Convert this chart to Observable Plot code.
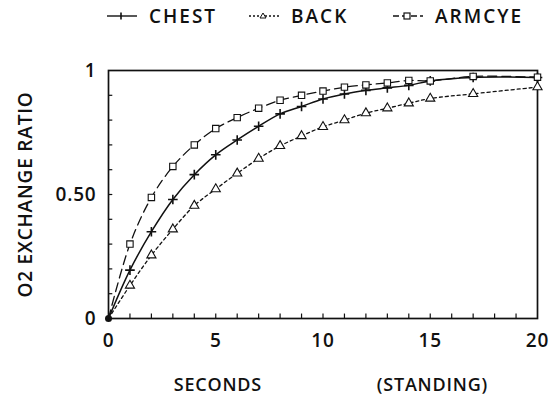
<!DOCTYPE html>
<html>
<head>
<meta charset="utf-8">
<script src="https://cdn.jsdelivr.net/npm/d3@7"></script>
<script src="https://cdn.jsdelivr.net/npm/@observablehq/plot@0.6"></script>
<style>
  html, body { margin: 0; padding: 0; background: #fff; }
  body { width: 553px; height: 402px; overflow: hidden; font-family: "Open Sans", sans-serif; }
  #legend { position: relative; height: 34px; width: 553px; }
  .item { position: absolute; top: 3px; display: flex; align-items: center; font-size: 19px; font-weight: 600; letter-spacing: 2px; color: #111; }
  .item svg { margin-right: 11px; }
</style>
</head>
<body>
<div id="legend"></div>
<div id="chart"></div>
<script>
const seconds = [0, 1, 2, 3, 4, 5, 6, 7, 8, 9, 10, 11, 12, 13, 14, 15, 17, 20];
const chest   = [0, 0.195, 0.35, 0.48, 0.58, 0.66, 0.72, 0.775, 0.825, 0.855, 0.885, 0.905, 0.92, 0.93, 0.94, 0.958, 0.972, 0.972];
const back    = [0, 0.133, 0.255, 0.36, 0.455, 0.522, 0.585, 0.645, 0.696, 0.736, 0.773, 0.80, 0.828, 0.848, 0.868, 0.887, 0.906, 0.933];
const armcye  = [0, 0.30, 0.488, 0.613, 0.70, 0.766, 0.81, 0.848, 0.88, 0.90, 0.917, 0.933, 0.942, 0.95, 0.96, 0.958, 0.976, 0.973];
const seriesNames = ["CHEST", "BACK", "ARMCYE"];
const yTickLabels = [0, 0.5, 1];
const xTickLabels = [0, 5, 10, 15, 20];

const styles = {
  CHEST:  {dash: null,  symbol: "plus",     r: 3.2},
  BACK:   {dash: "3,3", symbol: "triangle", r: 3.4},
  ARMCYE: {dash: "9,5", symbol: "square",   r: 3.6}
};

const values = {CHEST: chest, BACK: back, ARMCYE: armcye};
const rows = seriesNames.flatMap(s => seconds.map((t, i) => ({series: s, t, v: values[s][i]})));

// legend
const legend = document.getElementById("legend");
const legendX = [106, 248, 392];
seriesNames.forEach((s, i) => {
  const st = styles[s];
  const div = document.createElement("div");
  div.className = "item";
  div.style.left = legendX[i] + "px";
  const sym = s === "CHEST"
    ? '<path d="M15,12 v-3.5 M15,12 v3.5" stroke="#111" stroke-width="1.6"/>'
    : s === "BACK"
    ? '<path d="M15,9 L18,14 L12,14 Z" fill="white" stroke="#111" stroke-width="1"/>'
    : '<rect x="12" y="9" width="6" height="6" fill="white" stroke="#111" stroke-width="1.2"/>';
  div.innerHTML = `<svg width="32" height="24"><line x1="1" y1="12" x2="31" y2="12" stroke="#111" stroke-width="1.4" ${st.dash ? `stroke-dasharray="${s === "BACK" ? "2,2" : "6,3"}"` : ""}/>${sym}</svg><span>${s}</span>`;
  legend.appendChild(div);
});

const fontFamily = '"Open Sans", sans-serif';
const chart = Plot.plot({
  width: 553,
  height: 368,
  marginLeft: 108,
  marginRight: 16,
  marginTop: 36,
  marginBottom: 84,
  style: {fontFamily, fontSize: "18px", fontWeight: 600, color: "#111", background: "white"},
  x: {domain: [0, 20]},
  y: {domain: [0, 1]},
  marks: [
    Plot.ruleX(d3.range(1, 20), {x: d => d, y1: 0, y2: 0.018, stroke: "#111", strokeWidth: 1.2}),
    Plot.ruleY(d3.range(0.1, 1, 0.1), {y: d => d, x1: 0, x2: 0.2, stroke: "#111", strokeWidth: 1.2}),
    Plot.frame({stroke: "#111", strokeWidth: 1.7}),
    Plot.axisX({ticks: xTickLabels, tickSize: 0, tickPadding: 15, fontSize: 19, label: null}),
    Plot.axisY({ticks: yTickLabels, tickSize: 0, tickPadding: 12, fontSize: 19,
      tickFormat: d => d === 0 ? "0" : d === 1 ? "1" : d3.format(".2f")(d),
      label: "O2 EXCHANGE RATIO", labelAnchor: "center", labelOffset: 90, labelArrow: "none", fontSize: 19}),
    ...seriesNames.map(s => Plot.line(rows.filter(r => r.series === s), {
      x: "t", y: "v", curve: "catmull-rom", stroke: "#111", strokeWidth: s === "CHEST" ? 1.5 : 1.3,
      strokeDasharray: styles[s].dash
    })),
    ...seriesNames.map(s => Plot.dot(rows.filter(r => r.series === s && r.t > 0), {
      x: "t", y: "v", symbol: () => styles[s].symbol, r: styles[s].r,
      stroke: "#111", strokeWidth: s === "CHEST" ? 1.6 : 1.1, fill: s === "CHEST" ? "#111" : "white"
    })),
    Plot.dot(rows.filter(r => r.t === 0 && r.series === "CHEST"), {x: "t", y: "v", r: 3.5, fill: "#111"}),
    Plot.text([{x: 5.1, label: "SECONDS"}, {x: 15.1, label: "(STANDING)"}], {
      x: "x", text: "label", frameAnchor: "bottom", dy: 72, fontSize: 18, fill: "#111"
    })
  ]
});
chart.style.letterSpacing = "0.8px";
document.getElementById("chart").appendChild(chart);
</script>
</body>
</html>
